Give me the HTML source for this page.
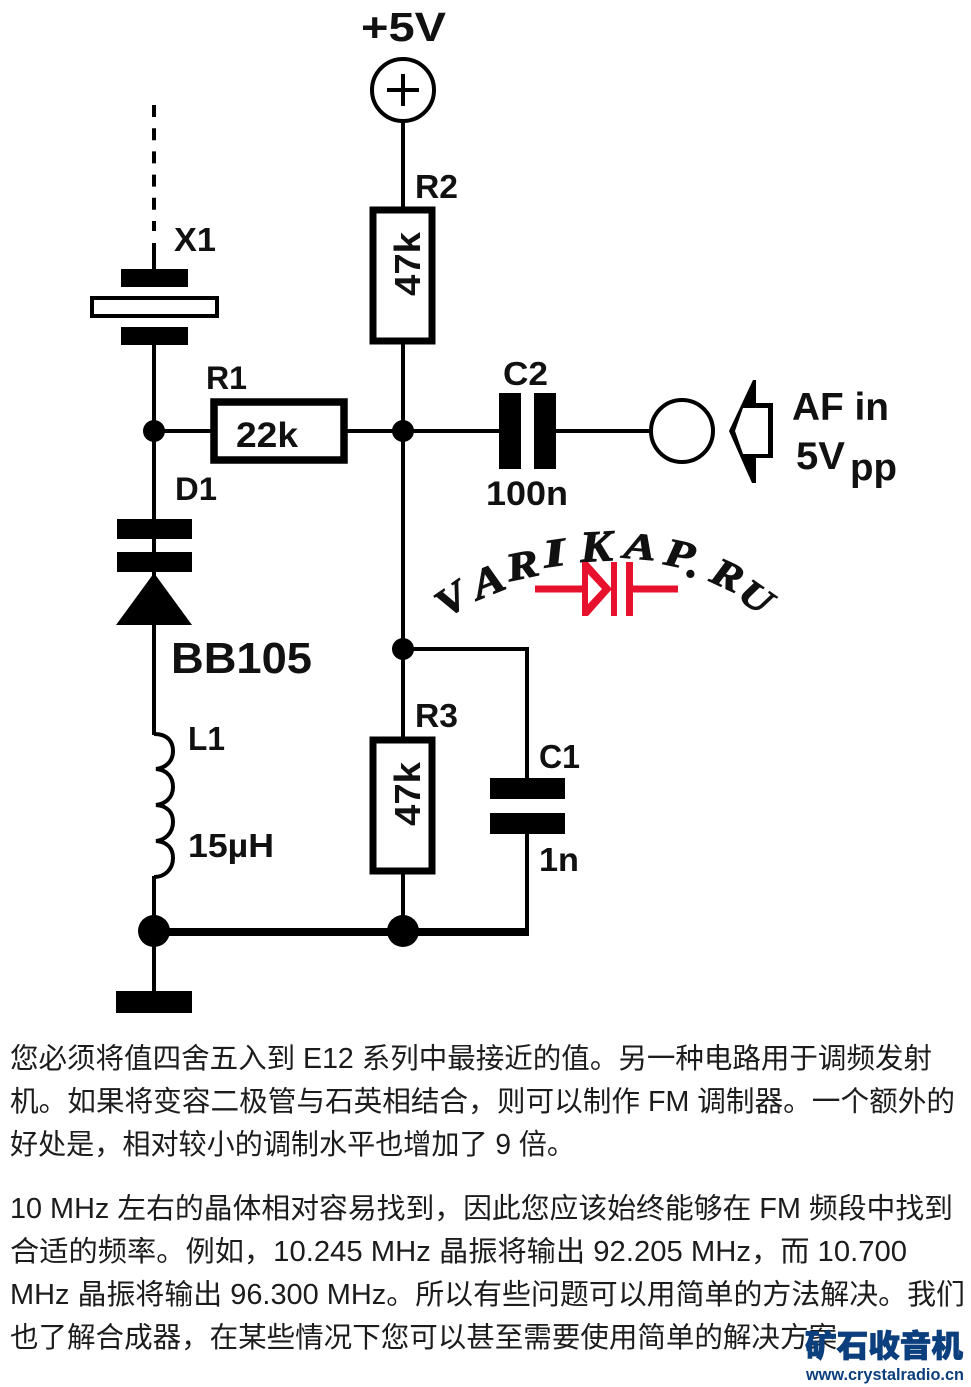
<!DOCTYPE html>
<html><head><meta charset="utf-8"><style>
html,body{margin:0;padding:0;background:#fff;width:971px;height:1387px;overflow:hidden}
svg{display:block}
.l{font-family:"Liberation Sans",sans-serif;font-weight:bold;fill:#111}
.t{font-family:"Liberation Sans","Noto Sans CJK SC",sans-serif;font-size:28.5px;fill:#1c1c1c;font-weight:400}
.w{stroke:#000;fill:none;stroke-width:4}
</style></head><body>
<svg width="971" height="1387" viewBox="0 0 971 1387" xmlns="http://www.w3.org/2000/svg">
<rect width="971" height="1387" fill="#fff"/>
<!-- wires -->
<path class="w" d="M154 243V270M154 345V735M154 876V992M154 431H212M346 431H500M556 431H652M403 120V210M403 343V740M403 872V932M403 649H527V780M527 834V932"/>
<path d="M154 105V231" stroke="#000" stroke-width="4" stroke-dasharray="12 11.2" fill="none"/>
<path d="M154 932H529" stroke="#000" stroke-width="8" fill="none"/>
<!-- +5V -->
<circle cx="403" cy="90" r="31" fill="#fff" stroke="#000" stroke-width="4"/>
<path d="M387 90H419M403 74V106" stroke="#000" stroke-width="4"/>
<!-- X1 -->
<rect x="121" y="269" width="67" height="18" fill="#000"/>
<rect x="92" y="298" width="125" height="18" fill="#fff" stroke="#000" stroke-width="4"/>
<rect x="121" y="327" width="67" height="18" fill="#000"/>
<!-- R1 -->
<rect x="214" y="402" width="130" height="58" fill="#fff" stroke="#000" stroke-width="7.5"/>
<!-- R2 -->
<rect x="373" y="210" width="59" height="131" fill="#fff" stroke="#000" stroke-width="7"/>
<!-- R3 -->
<rect x="373" y="740" width="59" height="131" fill="#fff" stroke="#000" stroke-width="7"/>
<!-- C2 -->
<rect x="499" y="393" width="22" height="76" fill="#000"/>
<rect x="534" y="393" width="22" height="76" fill="#000"/>
<!-- jack -->
<circle cx="682" cy="431" r="31" fill="#fff" stroke="#000" stroke-width="4"/>
<!-- speaker -->
<path d="M753 380L756 380V403H773V458H756V483H752L729 431Z" fill="#000"/>
<path d="M743 408H768V454H743L735 431Z" fill="#fff"/>
<!-- D1 -->
<rect x="117" y="519" width="75" height="20" fill="#000"/>
<rect x="117" y="552" width="75" height="20" fill="#000"/>
<path d="M154 573L192 625H116Z" fill="#000"/>
<!-- L1 -->
<path d="M154 734C168 734 173 742 173 751C173 762 165 768 156 769C168 770 173 778 173 787C173 798 165 804 156 805C168 806 173 813 173 822C173 833 165 840 156 841C168 842 173 849 173 858C173 869 165 877 154 877" class="w"/>
<!-- C1 -->
<rect x="490" y="778" width="75" height="21" fill="#000"/>
<rect x="490" y="813" width="75" height="21" fill="#000"/>
<!-- dots -->
<circle cx="154" cy="431" r="11" fill="#000"/>
<circle cx="403" cy="431" r="11" fill="#000"/>
<circle cx="403" cy="649" r="11" fill="#000"/>
<circle cx="154" cy="931" r="16" fill="#000"/>
<circle cx="403" cy="931" r="16" fill="#000"/>
<rect x="116" y="991" width="76" height="22" fill="#000"/>
<!-- labels -->
<text class="l" x="361" y="41" font-size="41" textLength="85" lengthAdjust="spacingAndGlyphs">+5V</text>
<text class="l" x="415" y="198" font-size="33" textLength="43" lengthAdjust="spacingAndGlyphs">R2</text>
<text class="l" x="174" y="251" font-size="33" textLength="42" lengthAdjust="spacingAndGlyphs">X1</text>
<text class="l" x="206" y="389" font-size="32" textLength="41" lengthAdjust="spacingAndGlyphs">R1</text>
<text class="l" x="236" y="447" font-size="35" textLength="62" lengthAdjust="spacingAndGlyphs">22k</text>
<text class="l" x="503" y="385" font-size="33" textLength="45" lengthAdjust="spacingAndGlyphs">C2</text>
<text class="l" x="486" y="505" font-size="34" textLength="82" lengthAdjust="spacingAndGlyphs">100n</text>
<text class="l" x="792" y="420" font-size="39" textLength="97" lengthAdjust="spacingAndGlyphs">AF in</text>
<text class="l" x="796" y="469" font-size="39" textLength="49" lengthAdjust="spacingAndGlyphs">5V</text>
<text class="l" x="850" y="480" font-size="38" textLength="47" lengthAdjust="spacingAndGlyphs">pp</text>
<text class="l" x="175" y="500" font-size="32" textLength="42" lengthAdjust="spacingAndGlyphs">D1</text>
<text class="l" x="171" y="673" font-size="44" textLength="141" lengthAdjust="spacingAndGlyphs">BB105</text>
<text class="l" x="188" y="750" font-size="33" textLength="37" lengthAdjust="spacingAndGlyphs">L1</text>
<text class="l" x="188" y="857" font-size="33" textLength="86" lengthAdjust="spacingAndGlyphs">15µH</text>
<text class="l" x="415" y="727" font-size="33" textLength="43" lengthAdjust="spacingAndGlyphs">R3</text>
<text class="l" x="539" y="768" font-size="33" textLength="41" lengthAdjust="spacingAndGlyphs">C1</text>
<text class="l" x="539" y="871" font-size="33" textLength="40" lengthAdjust="spacingAndGlyphs">1n</text>
<text class="l" font-size="36" transform="translate(420,296) rotate(-90)" textLength="64" lengthAdjust="spacingAndGlyphs">47k</text>
<text class="l" font-size="36" transform="translate(420,826) rotate(-90)" textLength="64" lengthAdjust="spacingAndGlyphs">47k</text>
<!-- vartikap logo -->
<g font-family="'Liberation Serif',serif" font-style="italic" font-weight="bold" fill="#111" stroke="#111" stroke-width="1.1" font-size="44" text-anchor="middle">
<text transform="translate(459,610) rotate(-35) scale(1.05,.9)">V</text>
<text transform="translate(493,594) rotate(-22) scale(1.1,.95)">A</text>
<text transform="translate(525,578) rotate(-12) scale(1.1,.9)">R</text>
<text transform="translate(556,566) rotate(-8) scale(1.3,.9)">I</text>
<text transform="translate(597,561) rotate(-3) scale(1.1,1)">K</text>
<text transform="translate(639,559) rotate(5) scale(1.1,.85)">A</text>
<text transform="translate(677,567) rotate(12) scale(1.1,.9)">P</text>
<text transform="translate(692,577)">.</text>
<text transform="translate(722,587) rotate(25) scale(1.05,.9)">R</text>
<text transform="translate(749,607) rotate(35) scale(1,.85)">U</text>
</g>
<path d="M535 589H583M632 589H678" stroke="#e8112d" stroke-width="7" fill="none"/>
<path d="M582 562H588L612 589L588 616H582Z" fill="#e8112d"/>
<path d="M588 574V604L602 589Z" fill="#fff"/>
<rect x="611" y="562" width="6" height="54" fill="#e8112d"/>
<rect x="626" y="562" width="7" height="54" fill="#e8112d"/>
<!-- paragraph text -->
<text class="t" x="10" y="1068" textLength="922" lengthAdjust="spacingAndGlyphs">您必须将值四舍五入到 E12 系列中最接近的值。另一种电路用于调频发射</text>
<text class="t" x="10" y="1111" textLength="945" lengthAdjust="spacingAndGlyphs">机。如果将变容二极管与石英相结合，则可以制作 FM 调制器。一个额外的</text>
<text class="t" x="10" y="1154" textLength="565" lengthAdjust="spacingAndGlyphs">好处是，相对较小的调制水平也增加了 9 倍。</text>
<text class="t" x="10" y="1218" textLength="943" lengthAdjust="spacingAndGlyphs">10 MHz 左右的晶体相对容易找到，因此您应该始终能够在 FM 频段中找到</text>
<text class="t" x="10" y="1261" textLength="897" lengthAdjust="spacingAndGlyphs">合适的频率。例如，10.245 MHz 晶振将输出 92.205 MHz，而 10.700</text>
<text class="t" x="10" y="1304" textLength="955" lengthAdjust="spacingAndGlyphs">MHz 晶振将输出 96.300 MHz。所以有些问题可以用简单的方法解决。我们</text>
<text class="t" x="10" y="1347" textLength="827" lengthAdjust="spacingAndGlyphs">也了解合成器，在某些情况下您可以甚至需要使用简单的解决方案</text>
<!-- watermark -->
<text x="805" y="1357" font-family="'Liberation Sans','Noto Sans CJK SC',sans-serif" font-weight="900" font-size="31" fill="#0c3f7d" stroke="#0c3f7d" stroke-width="0.8" textLength="158" lengthAdjust="spacingAndGlyphs">矿石收音机</text>
<text x="806" y="1380" font-family="'Liberation Sans',sans-serif" font-weight="bold" font-size="17" fill="#0c3f7d" textLength="158" lengthAdjust="spacingAndGlyphs">www.crystalradio.cn</text>
</svg>
</body></html>
